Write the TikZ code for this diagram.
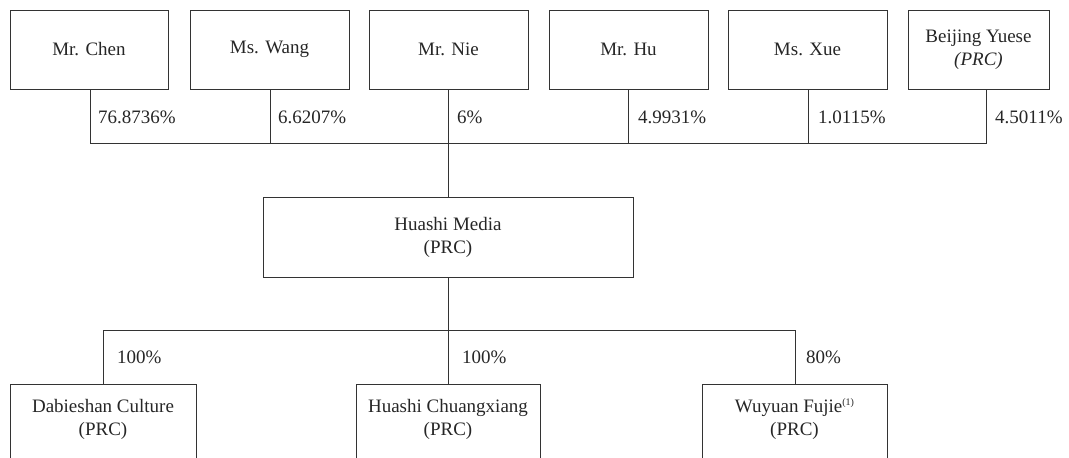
\documentclass[tikz,border=0pt]{standalone}
\usepackage{fontspec}
\setmainfont{Liberation Serif}
\begin{document}
\begin{tikzpicture}[x=1pt,y=-1pt,
  every node/.style={font=\fontsize{19}{23}\selectfont, text=black!85},
  box/.style={draw=black!80, line width=0.9pt, inner sep=0pt, align=center},
  ln/.style={draw=black!80, line width=0.9pt},
  pct/.style={anchor=west, inner sep=0pt}]
\useasboundingbox (0,0) rectangle (1069,458);
\clip (0,0) rectangle (1069,458);
% top boxes
\node[box, minimum width=158, minimum height=79] (chen) at (89,49.5) {Mr. Chen};
\node[box, minimum width=159, minimum height=79] (wang) at (269.5,49.5) {Ms. Wang};
\node[box, minimum width=159, minimum height=79] (nie) at (448.5,49.5) {Mr. Nie};
\node[box, minimum width=159, minimum height=79] (hu) at (628.5,49.5) {Mr. Hu};
\node[box, minimum width=159, minimum height=79] (xue) at (807.5,49.5) {Ms. Xue};
\node[box, minimum width=141, minimum height=79] (bj) at (978.5,49.5) {Beijing Yuese\\\textit{(PRC)}};
% middle
\node[box, minimum width=370, minimum height=80] (hm) at (448,237) {Huashi Media\\(PRC)};
% bottom boxes (cut off by page edge)
\node[box, minimum width=186, minimum height=80, anchor=north] (dab) at (103,384) {};
\node[box, minimum width=184, minimum height=80, anchor=north] (hc) at (448,384) {};
\node[box, minimum width=185, minimum height=80, anchor=north] (wy) at (794.5,384) {};
\node[align=center] (dabt) at (103,419) {Dabieshan Culture\\(PRC)};
\node[align=center] (hct) at (448,419) {Huashi Chuangxiang\\(PRC)};
\node[align=center] (wyt) at (794.5,419) {Wuyuan Fujie{\fontsize{10}{10}\selectfont\raisebox{1.35ex}{(1)}}\\(PRC)};
% coordinates
\coordinate (cL) at (90,143);
\coordinate (cR) at (986,143);
\coordinate (bL) at (103,330);
\coordinate (bR) at (795,330);
\coordinate (bM) at (448,330);
% top connectors
\draw[ln] (chen.south -| cL) -- (cL) -- (cR) -- (cR |- bj.south);
\draw[ln] (270,89) -- (270,143);
\draw[ln] (nie.south -| hm.north) -- (hm.north);
\draw[ln] (628,89) -- (628,143);
\draw[ln] (808,89) -- (808,143);
% bottom connectors
\draw[ln] (hm.south) -- (bM);
\draw[ln] (dab.north) -- (bL) -- (bR) -- (bR |- wy.north);
\draw[ln] (bM) -- (hc.north);
% percentages
\node[pct] (p1) at (98,117) {76.8736\%};
\node[pct] (p2) at (278,117) {6.6207\%};
\node[pct] (p3) at (457,117) {6\%};
\node[pct] (p4) at (638,117) {4.9931\%};
\node[pct] (p5) at (818,117) {1.0115\%};
\node[pct] (p6) at (995,117) {4.5011\%};
\node[pct] (q1) at (117,357) {100\%};
\node[pct] (q2) at (462,357) {100\%};
\node[pct] (q3) at (806,357) {80\%};
\end{tikzpicture}
\end{document}
